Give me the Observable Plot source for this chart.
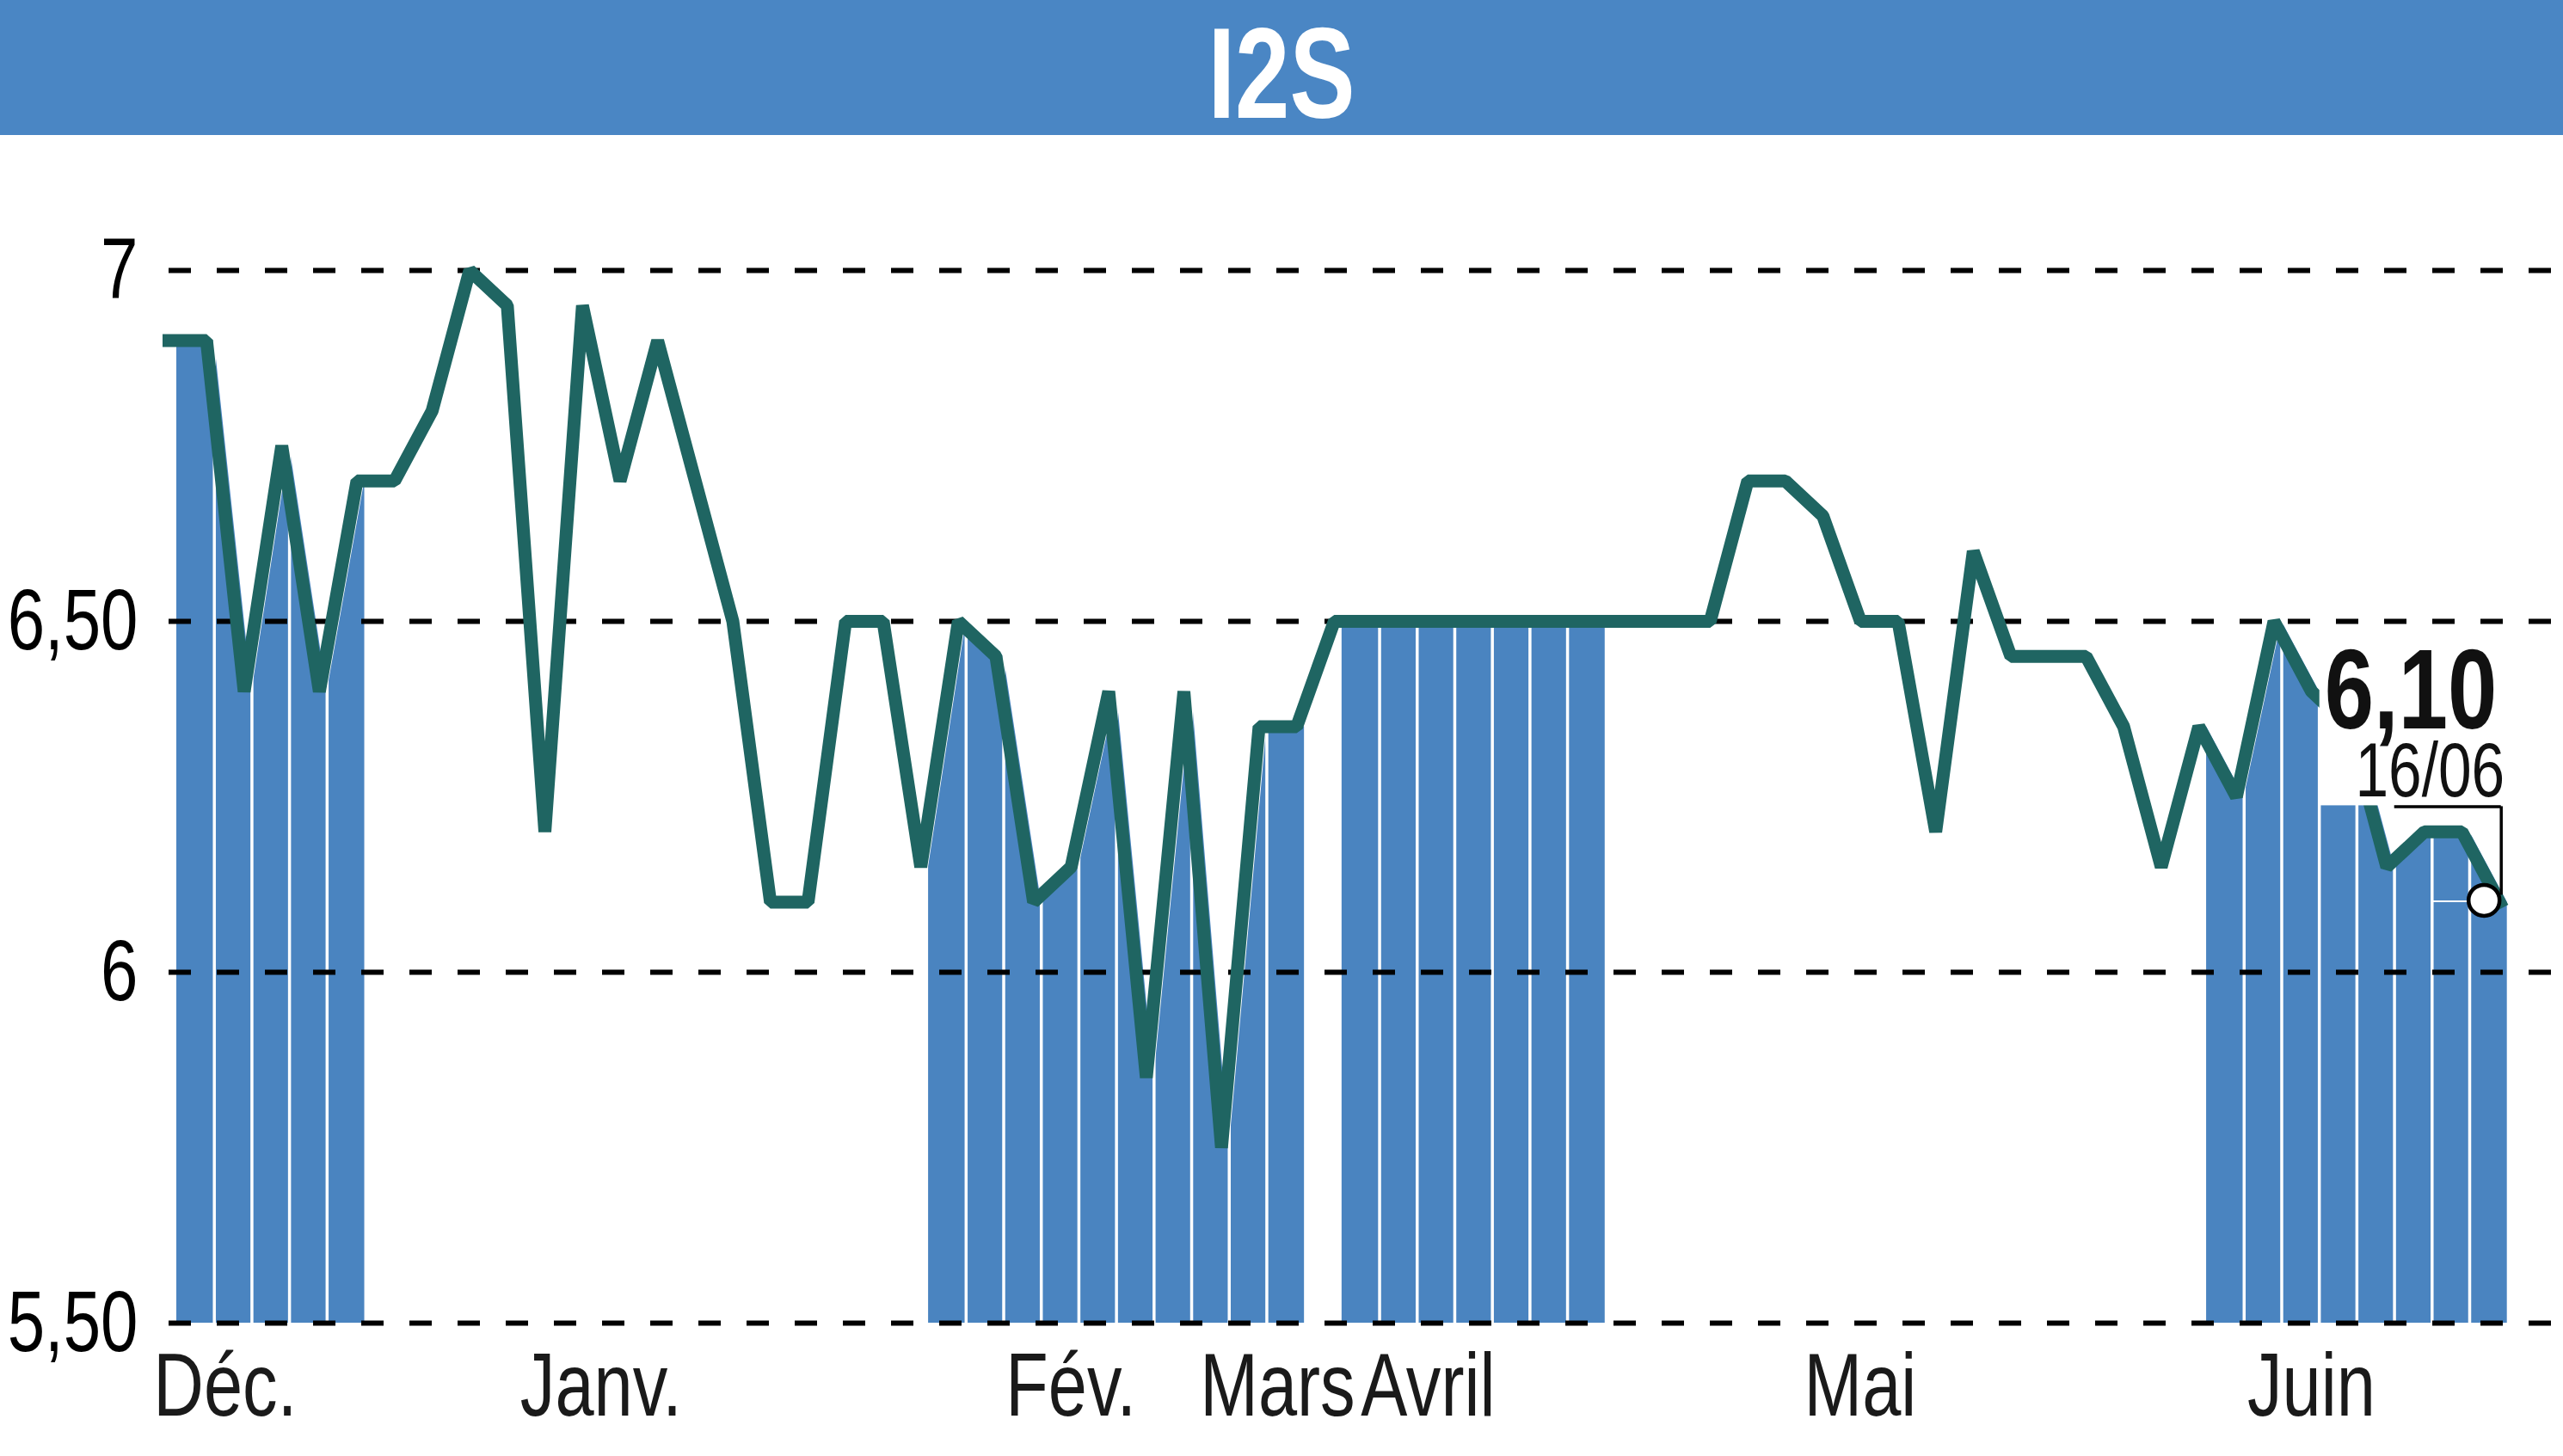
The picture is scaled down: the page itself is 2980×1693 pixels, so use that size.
<!DOCTYPE html>
<html><head><meta charset="utf-8">
<script src="https://cdn.jsdelivr.net/npm/d3@7"></script>
<script src="https://cdn.jsdelivr.net/npm/@observablehq/plot@0.6"></script>
<style>
html,body{margin:0;padding:0;background:#fff;}
#title{display:block;}
#chart svg{display:block;}
</style></head>
<body>
<svg id="title" width="2980" height="157">
  <rect x="0" y="0" width="2980" height="157" fill="#4a86c4"></rect>
  <text id="titleText" x="1490" y="137" text-anchor="middle" fill="#fff"
    font-family="Liberation Sans, Arial, sans-serif" font-weight="bold" font-size="150">I2S</text>
</svg>
<div id="chart"></div>
<script>
// ---- data ----
const months = ["Déc.", "Janv.", "Fév.", "Mars", "Avril", "Mai", "Juin"];
const pointsPerMonth = [5, 15, 10, 1, 7, 16, 9];
const prices = [
  6.90, 6.90, 6.40, 6.75, 6.40,                                   // Déc.
  6.70, 6.70, 6.80, 7.00, 6.95, 6.20, 6.95, 6.70, 6.90, 6.70,
  6.50, 6.10, 6.10, 6.50, 6.50,                                   // Janv.
  6.15, 6.50, 6.45, 6.10, 6.15, 6.40, 5.85, 6.40, 5.75, 6.35,     // Fév.
  6.35,                                                           // Mars
  6.50, 6.50, 6.50, 6.50, 6.50, 6.50, 6.50,                       // Avril
  6.50, 6.50, 6.50, 6.50, 6.70, 6.70, 6.65, 6.50, 6.50, 6.20,
  6.60, 6.45, 6.45, 6.45, 6.35, 6.15,                             // Mai
  6.35, 6.25, 6.50, 6.40, 6.35, 6.15, 6.20, 6.20, 6.10            // Juin
];
const yTicks = [5.5, 6, 6.5, 7];
const lastDate = "16/06";

// ---- derived tables ----
const fmt = d => Number.isInteger(d) ? String(d) : d.toFixed(2).replace(".", ",");
const points = [];
const monthInfo = [];
let k = 0;
months.forEach((m, mi) => {
  const first = k;
  for (let j = 0; j < pointsPerMonth[mi]; j++) { points.push({i: k, v: prices[k], m: mi}); k++; }
  monthInfo.push({name: m, mi, first});
});
const lastIndex = points.length - 1;
monthInfo.forEach((d, idx) => {
  d.end = idx < monthInfo.length - 1 ? monthInfo[idx + 1].first : lastIndex;
  d.mid = (d.first + d.end) / 2;
});
const shaded = monthInfo.filter(d => d.mi % 2 === 0);
const areaData = [];
const separators = [];
shaded.forEach(d => {
  for (let i = d.first; i <= d.end; i++) areaData.push({i, v: prices[i], z: d.mi});
  for (let i = d.first + 1; i < d.end; i++) separators.push(i);
});
const last = points[lastIndex];

const font = '"Liberation Sans",Arial,sans-serif';
const lineColor = "#1f6562";
const barColor = "#4a84c0";

const chart = Plot.plot({
  width: 2980, height: 1536,
  marginLeft: 196, marginRight: 0, marginTop: 157, marginBottom: 155,
  x: {domain: [0, 63.7], axis: null},
  y: {domain: [5.5, 7], axis: null, label: null},
  style: {fontFamily: font, background: "white", color: "black"},
  marks: [
    Plot.areaY(areaData, {x: "i", y1: 5.5, y2: "v", z: "z", fill: barColor, dx: 9, curve: "linear"}),
    Plot.ruleX(separators, {x: d => d, y1: 5.5, y2: 7.05, stroke: "white", strokeWidth: 3.5, dx: 9}),
    Plot.ruleY(yTicks, {stroke: "black", strokeWidth: 6, strokeDasharray: "26,30"}),
    Plot.axisY(yTicks, {tickSize: 0, tickPadding: 36, tickFormat: fmt, fontSize: 100, label: null, fontFamily: font}),
    Plot.text(monthInfo, {x: "mid", text: "name", frameAnchor: "bottom", lineAnchor: "bottom",
      dx: -44, dy: 107, fontSize: 104, fill: "#1a1a1a", fontFamily: font}),
    Plot.line(points, {x: "i", y: "v", stroke: lineColor, strokeWidth: 15,
      strokeLinejoin: "bevel", strokeLinecap: "square"}),
    Plot.rect([last], {x1: "i", x2: "i", y1: "v", y2: "v", fill: "white",
      insetLeft: -209, insetRight: -10, insetTop: -293, insetBottom: 112}),
    Plot.text([last], {x: "i", y: "v", text: d => fmt(d.v), textAnchor: "end", lineAnchor: "bottom",
      dx: -3, dy: -202, fontSize: 132, fontWeight: "bold", fill: "#111", fontFamily: font}),
    Plot.text([last], {x: "i", y: "v", text: () => lastDate, textAnchor: "end", lineAnchor: "bottom",
      dx: 6, dy: -123, fontSize: 89, fill: "#111", fontFamily: font}),
    Plot.ruleY([last], {y: "v", x1: "i", x2: "i", dy: -111, insetLeft: -122, insetRight: -2,
      stroke: "black", strokeWidth: 3.5}),
    Plot.ruleX([last], {x: "i", y1: "v", y2: "v", dx: 2, insetTop: -111, insetBottom: 8,
      stroke: "black", strokeWidth: 3.5}),
    Plot.ruleY([last], {y: "v", x1: "i", x2: "i", dy: -1, insetLeft: -78, insetRight: 36,
      stroke: "white", strokeWidth: 2}),
    Plot.dot([last], {x: "i", y: "v", r: 18, dx: -18, dy: -2, fill: "white", stroke: "black", strokeWidth: 4.5})
  ]
});
document.getElementById("chart").appendChild(chart);
// condense the text horizontally (the reference uses a condensed typeface)
function condense(sel, factor) {
  d3.selectAll(sel).each(function () {
    const len = this.getComputedTextLength();
    if (len > 0) {
      this.setAttribute("textLength", (len * factor).toFixed(1));
      this.setAttribute("lengthAdjust", "spacingAndGlyphs");
    }
  });
}
condense("#chart svg text", 0.78);
condense("#titleText", 0.76);
</script>
</body></html>
